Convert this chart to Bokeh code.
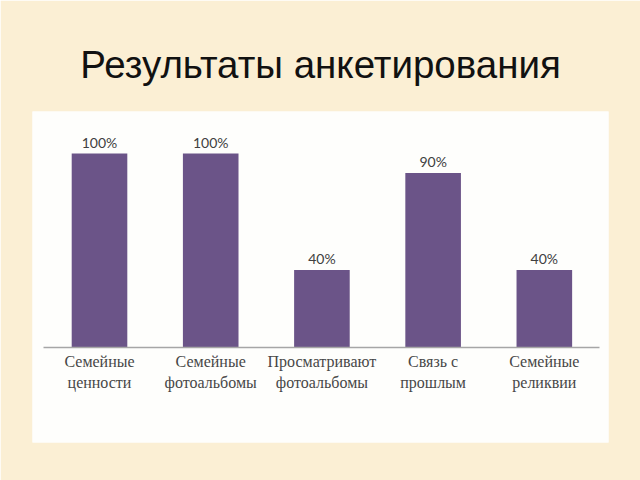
from bokeh.plotting import figure
from bokeh.models import ColumnDataSource, Range1d, LinearAxis, FixedTicker
from bokeh.core.properties import value
from bokeh.embed import file_html
from bokeh.resources import INLINE

categories = ["Семейные\nценности", "Семейные\nфотоальбомы", "Просматривают\nфотоальбомы",
              "Связь с\nпрошлым", "Семейные\nреликвии"]
values = [100, 100, 40, 90, 40]
value_labels = ["100%", "100%", "40%", "90%", "40%"]

xs = list(range(len(categories)))
source = ColumnDataSource(dict(x=xs, top=values, lab=value_labels))

p = figure(width=640, height=480, output_backend="svg", toolbar_location=None,
           x_axis_type=None, y_axis_type=None,
           x_range=Range1d(-0.6025, 4.577), y_range=Range1d(-48.97, 121.65),
           min_border_left=32, min_border_right=32, min_border_top=111, min_border_bottom=38)

p.background_fill_color = "#FEFEFC"
p.border_fill_color = "#FBEFD4"
p.outline_line_color = None
p.xgrid.visible = False
p.ygrid.visible = False

p.title.text = "Результаты анкетирования"
p.title.text_font = "Liberation Sans"
p.title.text_font_size = "38.5px"
p.title.text_font_style = "normal"
p.title.text_color = "#111111"
p.title.align = "center"
p.title.standoff = 52

p.vbar(x="x", top="top", bottom=0, width=0.5, source=source,
       fill_color="#6B5488", line_color=None)

p.text(x="x", y="top", text="lab", source=source, text_align="center",
       text_baseline="bottom", y_offset=-3, text_font=value("Lato"),
       text_font_size="14px", text_color="#404040")

ax = LinearAxis(fixed_location=0, ticker=FixedTicker(ticks=xs),
                major_label_overrides={i: c for i, c in zip(xs, categories)},
                bounds=(-0.5, 4.5))
ax.axis_line_color = "#A6A6A6"
ax.axis_line_width = 1.5
ax.major_tick_line_color = None
ax.minor_tick_line_color = None
ax.major_label_text_font = "Liberation Serif"
ax.major_label_text_font_size = "16px"
ax.major_label_text_color = "#474747"
ax.major_label_standoff = 0
ax.major_label_text_line_height = 1.2
p.add_layout(ax, "below")

open("out.html", "w").write(file_html(p, INLINE))
